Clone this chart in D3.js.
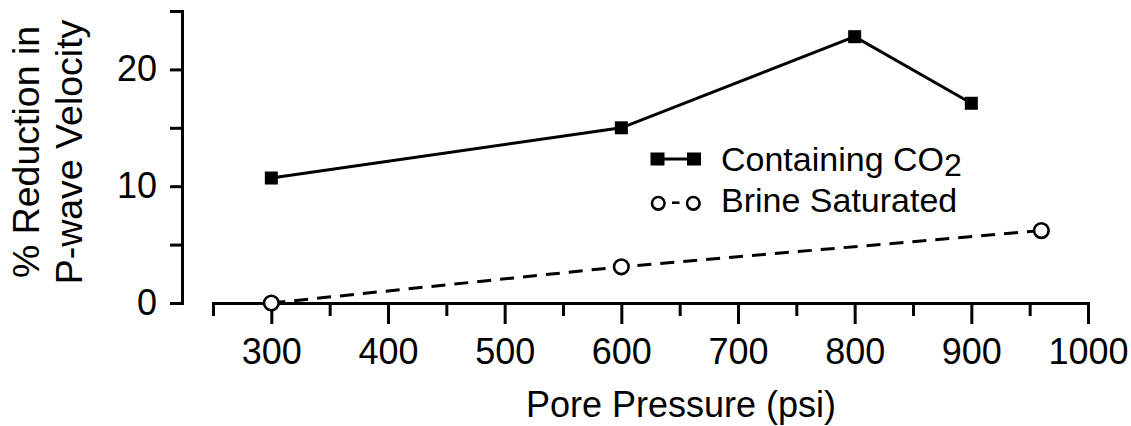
<!DOCTYPE html>
<html><head><meta charset="utf-8">
<script src="https://cdn.jsdelivr.net/npm/d3@7/dist/d3.min.js"></script>
<style>
body{margin:0;background:#fff}
svg text{font-family:"Liberation Sans",Arial,Helvetica,sans-serif;fill:#000}
</style>
</head><body>
<svg id="chart" width="1131" height="426"></svg>
<script>
// ---- data ----
const co2Pressure = [300, 600, 800, 900];
const co2Reduction = [10.7, 15.0, 22.8, 17.1];
const brinePressure = [300, 600, 960];
const brineReduction = [0, 3.1, 6.2];
const xMajorTicks = [300, 400, 500, 600, 700, 800, 900, 1000];
const xMinorTicks = [250, 350, 450, 550, 650, 750, 850, 950];
const yMajorTicks = [0, 10, 20];
const yMinorTicks = [5, 15, 25];
const xTitle = "Pore Pressure (psi)";
const yTitleLines = ["% Reduction in", "P-wave Velocity"];
const legendNames = ["Containing CO", "Brine Saturated"];

// ---- layout ----
const svg = d3.select("#chart");
const x = d3.scaleLinear().domain([250, 1000]).range([213, 1088]);
const y = d3.scaleLinear().domain([0, 25]).range([303, 11]);
const axisY0 = 303, axisX0 = 182;
const lw = 3;

function styleAxis(g){
  g.selectAll("path.domain").attr("stroke","#000").attr("stroke-width",lw).attr("stroke-linecap","square");
  g.selectAll(".tick line").attr("stroke","#000").attr("stroke-width",lw);
  g.selectAll(".tick text").attr("font-size",36).attr("font-family","Liberation Sans, Arial, sans-serif").attr("fill","#000");
}

// x axis
const gxMinor = svg.append("g").attr("transform",`translate(0,${axisY0})`)
  .call(d3.axisBottom(x).tickValues(xMinorTicks).tickSize(13).tickSizeOuter(0).tickFormat(""));
styleAxis(gxMinor);
const gx = svg.append("g").attr("transform",`translate(0,${axisY0})`)
  .call(d3.axisBottom(x).tickValues(xMajorTicks).tickSize(21).tickSizeOuter(0).tickPadding(14).tickFormat(d3.format("d")));
styleAxis(gx);

// y axis
const gyMinor = svg.append("g").attr("transform",`translate(${axisX0},0)`)
  .call(d3.axisLeft(y).tickValues(yMinorTicks).tickSize(12).tickSizeOuter(0).tickFormat(""));
styleAxis(gyMinor);
const gy = svg.append("g").attr("transform",`translate(${axisX0},0)`)
  .call(d3.axisLeft(y).tickValues(yMajorTicks).tickSize(12).tickSizeOuter(0).tickPadding(13).tickFormat(d3.format("d")));
styleAxis(gy);

// titles
svg.append("text").attr("x",681).attr("y",417).attr("text-anchor","middle")
  .attr("font-size",36).text(xTitle);
const yt = svg.append("g");
yTitleLines.forEach((t,i)=>{
  yt.append("text").attr("transform",`translate(${39+i*43},152) rotate(-90)`)
    .attr("text-anchor","middle").attr("font-size",37.5).text(t);
});

// series
const co2 = co2Pressure.map((p,i)=>({p, v:co2Reduction[i]}));
const brine = brinePressure.map((p,i)=>({p, v:brineReduction[i]}));
const line = d3.line().x(d=>x(d.p)).y(d=>y(d.v));

svg.append("path").datum(brine).attr("d",line).attr("fill","none")
  .attr("stroke","#000").attr("stroke-width",lw).attr("stroke-dasharray","14,9");
svg.append("path").datum(co2).attr("d",line).attr("fill","none")
  .attr("stroke","#000").attr("stroke-width",lw);

const sq = 13;
svg.selectAll("rect.co2").data(co2).enter().append("rect").attr("class","co2")
  .attr("x",d=>x(d.p)-sq/2).attr("y",d=>y(d.v)-sq/2).attr("width",sq).attr("height",sq).attr("fill","#000");
svg.selectAll("circle.brine").data(brine).enter().append("circle").attr("class","brine")
  .attr("cx",d=>x(d.p)).attr("cy",d=>y(d.v)).attr("r",7.3).attr("fill","#fff")
  .attr("stroke","#000").attr("stroke-width",2.6);

// legend
const lg = svg.append("g");
lg.append("line").attr("x1",657.5).attr("x2",694).attr("y1",159).attr("y2",159).attr("stroke","#000").attr("stroke-width",lw);
[657.5,694].forEach(cx=>lg.append("rect").attr("x",cx-7).attr("y",152.5).attr("width",14).attr("height",13).attr("fill","#000"));
const t1 = lg.append("text").attr("x",721).attr("y",171).attr("font-size",34);
t1.append("tspan").text(legendNames[0]);
t1.append("tspan").attr("dy",5).attr("font-size",32).text("2");
lg.append("line").attr("x1",672).attr("x2",679.5).attr("y1",202.7).attr("y2",202.7).attr("stroke","#000").attr("stroke-width",2.6);
[658.3,693.3].forEach(cx=>lg.append("circle").attr("cx",cx).attr("cy",203.3).attr("r",6.3).attr("fill","#fff").attr("stroke","#000").attr("stroke-width",2.6));
lg.append("text").attr("x",721).attr("y",211.5).attr("font-size",34).text(legendNames[1]);
</script>
</body></html>
